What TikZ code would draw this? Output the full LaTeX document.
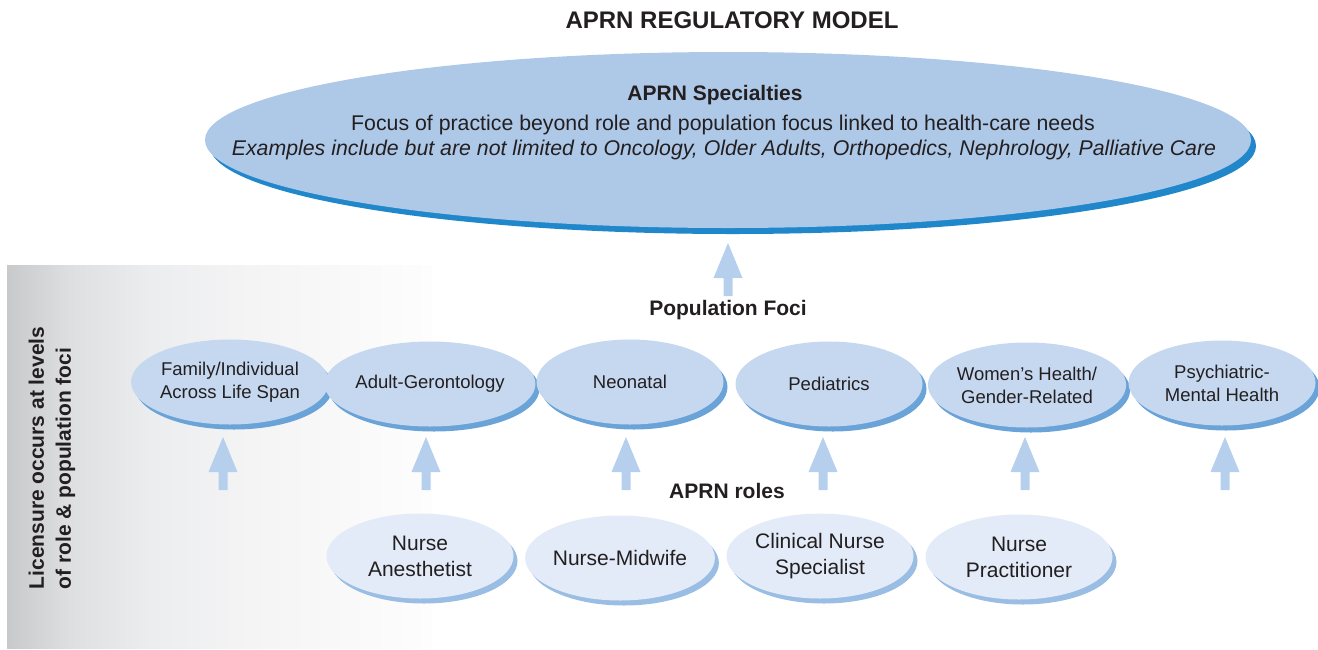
\documentclass[tikz,border=0pt]{standalone}
\usepackage{fontspec}
\setmainfont{Liberation Sans}
\usetikzlibrary{shapes.geometric,shadows}
\definecolor{txt}{HTML}{231F20}
\definecolor{topfill}{HTML}{AEC8E8}
\definecolor{topshadow}{HTML}{1F87CA}
\definecolor{popfill}{HTML}{C5D8F0}
\definecolor{popshadow}{HTML}{6AA3D8}
\definecolor{rolefill}{HTML}{E2EBF7}
\definecolor{roleshadow}{HTML}{9ABDE3}
\definecolor{arrowcol}{HTML}{B5CFEC}
\definecolor{pg0}{HTML}{C8C9CB}
\definecolor{pg1}{HTML}{DEDFE0}
\definecolor{pg2}{HTML}{ECEDEE}
\definecolor{pg3}{HTML}{F4F4F5}
\definecolor{pg4}{HTML}{FDFDFD}
\pgfdeclarehorizontalshading{panelshade}{100bp}{color(0bp)=(pg0); color(25bp)=(pg0); color(32.5bp)=(pg1); color(42bp)=(pg2); color(53.5bp)=(pg3); color(75bp)=(pg4); color(100bp)=(pg4)}
\tikzset{
  topell/.style={ellipse, fill=topfill, inner sep=0pt, minimum width=1046pt, minimum height=176pt,
    drop shadow={shadow xshift=5pt, shadow yshift=-6pt, fill=topshadow, opacity=1}},
  popell/.style={ellipse, fill=popfill, inner sep=0pt, minimum width=187pt, minimum height=85pt,
    align=center, text=txt, font=\fontsize{18.5}{23}\selectfont,
    drop shadow={shadow xshift=4pt, shadow yshift=-5pt, fill=popshadow, opacity=1}},
  roleell/.style={ellipse, fill=rolefill, inner sep=0pt, minimum width=187pt, minimum height=85pt,
    align=center, text=txt, font=\fontsize{21}{26}\selectfont,
    drop shadow={shadow xshift=4pt, shadow yshift=-5pt, fill=roleshadow, opacity=1}},
  headtxt/.style={text=txt, font=\bfseries\fontsize{21}{25}\selectfont, inner sep=0pt},
  uparr/.pic={\fill[arrowcol] (-4.5,53) -- (-4.5,35) -- (-14.5,35) -- (0,0) -- (14.5,35) -- (4.5,35) -- (4.5,53) -- cycle;}
}
\begin{document}
\begin{tikzpicture}[x=1pt,y=-1pt]
\useasboundingbox (0,0) rectangle (1318,649);
% left panel
\shade[shading=panelshade] (7,265) rectangle (432,648);
\node[rotate=90, align=left, text=txt, font=\bfseries\fontsize{21}{27}\selectfont, inner sep=0pt] (lic) at (52,458)
  {Licensure occurs at levels\\of role \& population foci};
% title
\node[text=txt, font=\bfseries\fontsize{24}{28}\selectfont, inner sep=0pt] (title) at (732,20) {APRN REGULATORY MODEL};
% specialties
\node[topell] (spec) at (728,140) {};
\node[headtxt] (spech) at (715,95) {APRN Specialties};
\node[text=txt, font=\fontsize{21.3}{25}\selectfont, inner sep=0pt] (specl1) at (723,125)
  {Focus of practice beyond role and population focus linked to health-care needs};
\node[text=txt, font=\itshape\fontsize{21.3}{25}\selectfont, inner sep=0pt] (specl2) at (724,150)
  {Examples include but are not limited to Oncology, Older Adults, Orthopedics, Nephrology, Palliative Care};
\coordinate (a0) at (728,243);
\pic at (a0) {uparr};
\node[headtxt] (popf) at (728,310) {Population Foci};
% population foci
\node[popell] (p1) at (230,382) {Family/Individual\\Across Life Span};
\node[popell] (p2) at (430,384) {Adult-Gerontology};
\node[popell] (p3) at (630,382) {Neonatal};
\node[popell] (p4) at (829,384) {Pediatrics};
\node[popell] (p5) at (1027,385) {Women’s Health/\\Gender-Related};
\node[popell] (p6) at (1222,383) {Psychiatric-\\Mental Health};
\foreach \x/\n in {223/1,426/2,626/3,823/4,1025/5,1225/6}{
  \coordinate (b\n) at (\x,437);
  \pic at (b\n) {uparr};
}
\node[headtxt] (roles) at (727,491) {APRN roles};
% roles
\node[roleell] (r1) at (420,556) {Nurse\\Anesthetist};
\node[roleell] (r2) at (620,558) {Nurse-Midwife};
\node[roleell] (r3) at (820,556) {Clinical Nurse\\Specialist};
\node[roleell] (r4) at (1019,557) {Nurse\\Practitioner};
\end{tikzpicture}
\end{document}
